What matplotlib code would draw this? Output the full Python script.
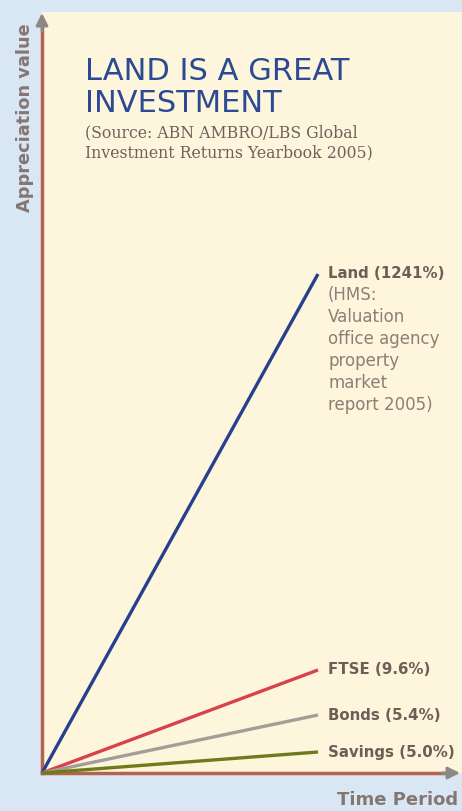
import matplotlib
matplotlib.use('Agg')
import matplotlib.pyplot as plt

# end points of each line (x = time, y = appreciation height, arbitrary units)
series = ['Land', 'FTSE', 'Bonds', 'Savings']
labels = ['Land (1241%)', 'FTSE (9.6%)', 'Bonds (5.4%)', 'Savings (5.0%)']
end_x = [276, 276, 276, 276]
end_y = [499, 103, 58, 21]
colors = ['#26408e', '#d8424c', '#a59d98', '#6e7a1c']
land_note = '(HMS:\nValuation\noffice agency\nproperty\nmarket\nreport 2005)'

W, H = 462, 811
fig = plt.figure(figsize=(W / 100, H / 100), dpi=100)
fig.patch.set_facecolor('#d9e7f5')

# cream panel
ax = fig.add_axes([42 / W, (811 - 773) / H, (W - 42) / W, (773 - 12) / H])
ax.set_facecolor('#fdf6dc')
ax.set_xlim(0, W - 42)
ax.set_ylim(0, 773 - 12)
for s in ax.spines.values():
    s.set_visible(False)
ax.set_xticks([])
ax.set_yticks([])

# axes: red-brown shafts, grey arrow heads
axis_col = '#b5634b'
head_col = '#8e8884'
ax.plot([0, 405], [0, 0], color=axis_col, lw=2.5, clip_on=False)
ax.plot([0, 0], [0, 748], color=axis_col, lw=2.5, clip_on=False)
ax.annotate('', xy=(418, 0), xytext=(400, 0),
            arrowprops=dict(arrowstyle='-|>', color=head_col, lw=2,
                            mutation_scale=18, shrinkA=0, shrinkB=0),
            annotation_clip=False)
ax.annotate('', xy=(0, 760), xytext=(0, 742),
            arrowprops=dict(arrowstyle='-|>', color=head_col, lw=2,
                            mutation_scale=18, shrinkA=0, shrinkB=0),
            annotation_clip=False)

for name, lab, x, y, c in zip(series, labels, end_x, end_y, colors):
    ax.plot([0, x], [0, y], color=c, lw=2.4, solid_capstyle='butt', clip_on=False)
    ax.text(x + 10, y, lab, color='#6e5e58', fontsize=10.8, fontweight='bold',
            va='center', ha='left', family='DejaVu Sans')

ax.text(end_x[0] + 10, end_y[0] - 12, land_note, color='#8e7e76', fontsize=12,
        va='top', ha='left', family='DejaVu Sans', linespacing=1.28)

# title
fig.text(85 / W, 1 - 57 / H, 'LAND IS A GREAT\nINVESTMENT', color='#2b4a93',
         fontsize=22, va='top', ha='left', family='DejaVu Sans', linespacing=1.12)
fig.text(85 / W, 1 - 124 / H,
         '(Source: ABN AMBRO/LBS Global\nInvestment Returns Yearbook 2005)',
         color='#6e605c', fontsize=11.3, va='top', ha='left', family='DejaVu Serif',
         linespacing=1.25)

# axis titles
fig.text(25 / W, 1 - 118 / H, 'Appreciation value', rotation=90, color='#857672',
         fontsize=12.8, fontweight='bold', va='center', ha='center', family='DejaVu Sans')
fig.text(458 / W, 1 - 800 / H, 'Time Period', color='#857672', fontsize=13,
         fontweight='bold', va='center', ha='right', family='DejaVu Sans')

fig.savefig('out.png', dpi=100, facecolor=fig.get_facecolor())
